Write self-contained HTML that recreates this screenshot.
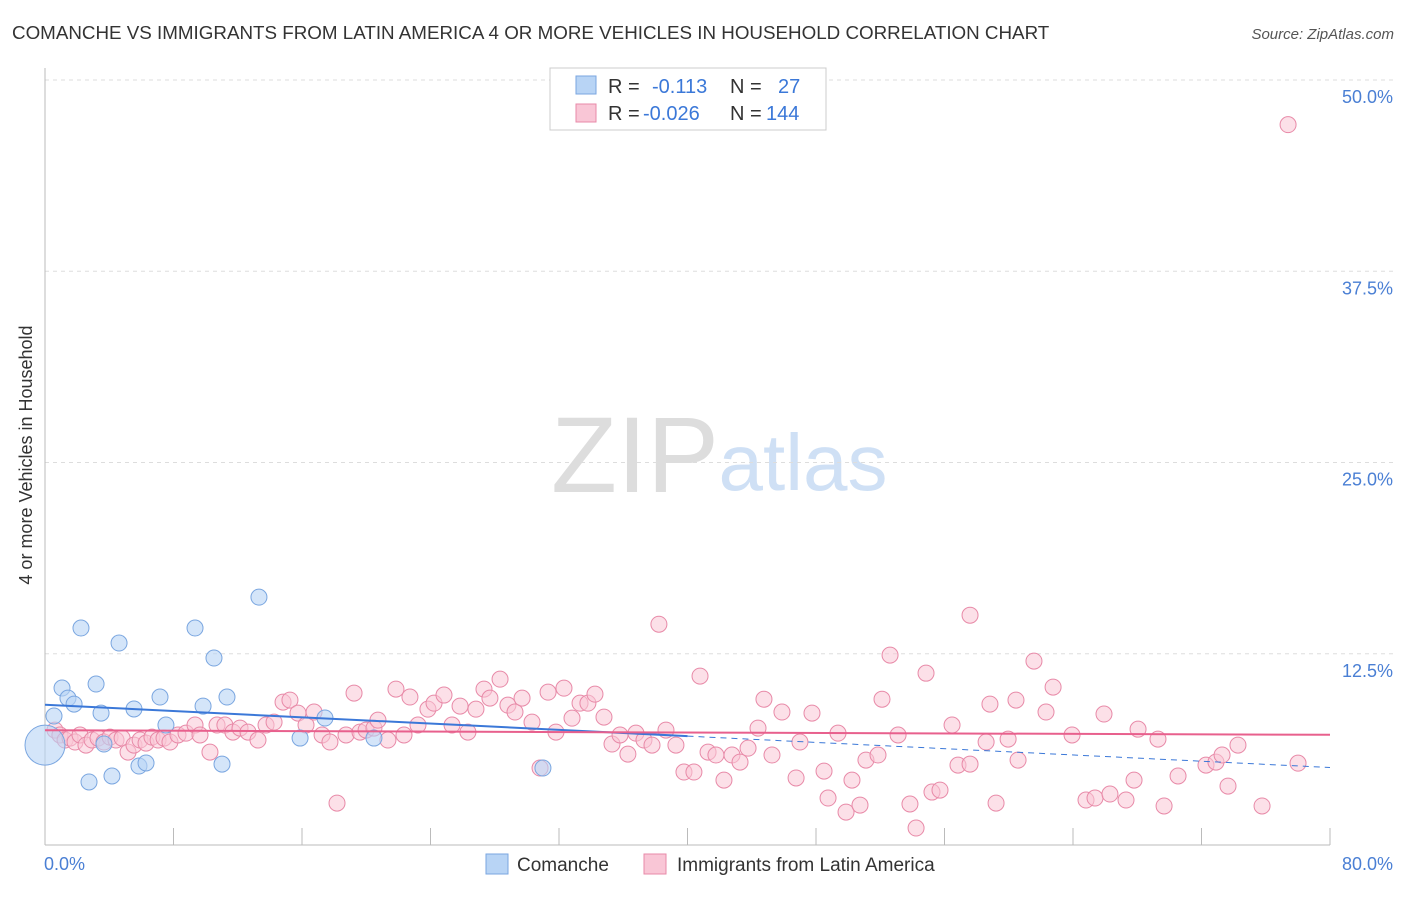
<!DOCTYPE html>
<html><head><meta charset="utf-8">
<style>
body{margin:0;background:#fff;font-family:"Liberation Sans",sans-serif;}
svg text{font-family:"Liberation Sans",sans-serif;}
</style></head>
<body>
<svg id="chart" width="1406" height="892" xmlns="http://www.w3.org/2000/svg">
<text x="12" y="39" font-size="18.8" fill="#333">COMANCHE VS IMMIGRANTS FROM LATIN AMERICA 4 OR MORE VEHICLES IN HOUSEHOLD CORRELATION CHART</text>
<text x="1394" y="39" font-size="15" fill="#555" font-style="italic" text-anchor="end">Source: ZipAtlas.com</text>
<text x="32" y="455" font-size="18" fill="#333" text-anchor="middle" transform="rotate(-90 32 455)">4 or more Vehicles in Household</text>
<g>
<text x="635" y="492" font-size="108" fill="#ddd" text-anchor="middle" font-family="Liberation Serif">ZIP</text>
<text x="803" y="490" font-size="80" fill="#cfe0f5" text-anchor="middle">atlas</text>
</g>
<g id="grid"></g>
<g id="axes"></g>
<g id="marks"></g>
<g>
<rect x="550" y="68" width="276" height="62" fill="#fff" stroke="#ccc"/>
<rect x="576" y="76" width="20" height="18" fill="#b8d4f5" stroke="#7aa6e0"/>
<rect x="576" y="104" width="20" height="18" fill="#f9c6d6" stroke="#e88aa8"/>
<text x="608" y="93" font-size="20" fill="#333">R = </text><text x="652" y="93" font-size="20" fill="#3b78d8">-0.113</text>
<text x="730" y="93" font-size="20" fill="#333">N = </text><text x="778" y="93" font-size="20" fill="#3b78d8">27</text>
<text x="608" y="120" font-size="20" fill="#333">R = </text><text x="643" y="120" font-size="20" fill="#3b78d8">-0.026</text>
<text x="730" y="120" font-size="20" fill="#333">N = </text><text x="766" y="120" font-size="20" fill="#3b78d8">144</text>
</g>
<g>
<rect x="486" y="854" width="22" height="20" fill="#b8d4f5" stroke="#7aa6e0"/>
<text x="517" y="871" font-size="19" fill="#333">Comanche</text>
<rect x="644" y="854" width="22" height="20" fill="#f9c6d6" stroke="#e88aa8"/>
<text x="677" y="871" font-size="19" fill="#333">Immigrants from Latin America</text>
</g>
</svg>
<script>
const yTicks=[12.5,25.0,37.5,50.0];
const yTickLabels=["12.5%","25.0%","37.5%","50.0%"];
const xEdgeLabels=["0.0%","80.0%"];
const comancheX=[0.56,1.06,1.43,1.81,2.24,2.74,3.18,3.49,3.67,4.17,4.61,5.54,5.85,6.29,7.16,7.53,9.34,9.84,10.52,11.02,11.33,13.32,15.88,17.43,20.48,31.0,0];
const comancheY=[8.43,10.26,9.6,9.21,14.18,4.12,10.52,8.62,6.6,4.51,13.2,8.89,5.16,5.36,9.67,7.84,14.18,9.08,12.22,5.29,9.67,16.2,6.99,8.3,6.99,5.03,6.53];
const immX=[0.62,0.93,1.25,1.56,1.87,2.18,2.55,2.93,3.3,3.67,4.05,4.42,4.8,5.17,5.54,5.92,6.29,6.66,7.04,7.41,7.78,8.28,8.78,9.34,9.65,10.27,10.71,11.2,11.7,12.14,12.64,13.26,13.76,14.26,14.82,15.25,15.75,16.25,16.75,17.25,17.74,18.18,18.74,19.24,19.61,19.99,20.48,20.73,21.35,21.85,22.35,22.72,23.22,23.84,24.22,24.84,25.34,25.84,26.33,26.83,27.33,27.7,28.33,28.82,29.26,29.7,30.32,30.82,31.32,31.81,32.31,32.81,33.31,33.8,34.24,34.8,35.3,35.8,36.29,36.79,37.29,37.79,38.22,38.66,39.28,39.78,40.4,40.78,41.28,41.77,42.27,42.77,43.27,43.77,44.39,44.76,45.26,45.88,46.76,47.0,47.75,48.5,48.75,49.37,49.87,50.24,50.74,51.11,51.86,52.11,52.61,53.11,53.85,54.23,54.85,55.22,55.72,56.47,56.84,57.59,57.59,58.59,58.83,59.21,59.96,60.45,60.58,61.57,62.32,62.76,63.94,64.81,65.37,65.93,66.3,67.3,67.8,68.05,69.29,69.67,70.54,72.28,72.9,73.28,73.65,74.27,75.77,78.01,77.39];
const immY=[7.51,7.19,6.86,6.99,6.73,7.19,6.53,6.86,6.99,6.73,7.05,6.86,6.99,6.07,6.53,6.86,6.66,7.05,6.86,6.99,6.73,7.19,7.31,7.84,7.19,6.07,7.84,7.84,7.38,7.64,7.38,6.86,7.84,8.03,9.34,9.47,8.62,7.84,8.69,7.19,6.73,2.74,7.19,9.93,7.38,7.51,7.64,8.16,6.86,10.19,7.19,9.67,7.84,8.88,9.27,9.8,7.84,9.08,7.38,8.88,10.19,9.6,10.84,9.14,8.69,9.6,8.03,5.03,9.99,7.38,10.25,8.29,9.27,9.27,9.86,8.36,6.6,7.19,5.94,7.31,6.86,6.53,14.43,7.51,6.53,4.77,4.77,11.04,6.07,5.88,4.24,5.88,5.42,6.33,7.64,9.53,5.88,8.69,4.38,6.73,8.62,4.83,3.07,7.31,2.15,4.24,2.61,5.55,5.88,9.53,12.41,7.19,2.68,1.11,11.23,3.46,3.59,7.84,5.22,15.02,5.29,6.73,9.21,2.74,6.92,9.47,5.55,12.02,8.69,10.32,7.19,2.94,3.07,8.56,3.33,2.94,4.24,7.57,6.92,2.55,4.51,5.22,5.42,5.88,3.85,6.53,2.55,5.35,47.08];

const NS="http://www.w3.org/2000/svg";
const X0=45,X1=1330,Y0=845,Y50=80;
const sx=v=>X0+(v/80)*(X1-X0);
const sy=v=>Y0-(v/50)*(Y0-Y50);
function mk(tag,attrs,parent){const e=document.createElementNS(NS,tag);for(const k in attrs)e.setAttribute(k,attrs[k]);parent.appendChild(e);return e;}
const grid=document.getElementById('grid'),axes=document.getElementById('axes'),marks=document.getElementById('marks');
yTicks.forEach((t,i)=>{
 const l=mk('line',{x1:X0,x2:1394,y1:sy(t),y2:sy(t),stroke:'#ddd','stroke-dasharray':'4,4'},grid);
 
 
 const tx=mk('text',{x:1393,y:sy(t)+23,'font-size':18,fill:'#4a7fd4','text-anchor':'end'},axes);
 tx.textContent=yTickLabels[i];
 
 
});
const ax=mk('line',{x1:X0,x2:X1,y1:Y0,y2:Y0,stroke:'#bbb'},axes);


const ay=mk('line',{x1:X0,x2:X0,y1:68,y2:Y0,stroke:'#bbb'},axes);


for(let i=0;i<=10;i++){
 const t=mk('line',{x1:sx(i*8),x2:sx(i*8),y1:Y0,y2:Y0-17,stroke:'#bbb'},axes);
 
 
}
const xl0=mk('text',{x:44,y:870,'font-size':18,fill:'#4a7fd4'},axes);xl0.textContent=xEdgeLabels[0];


const xl1=mk('text',{x:1393,y:870,'font-size':18,fill:'#4a7fd4','text-anchor':'end'},axes);xl1.textContent=xEdgeLabels[1];



immX.forEach((x,i)=>{
 const c=mk('circle',{cx:sx(x),cy:sy(immY[i]),r:8,fill:'#f9c6d6','fill-opacity':0.55,stroke:'#e88aa8','stroke-width':1},marks);
 
 
});
comancheX.forEach((x,i)=>{
 const r=(x===0)?20:8;
 const c=mk('circle',{cx:sx(x),cy:sy(comancheY[i]),r:r,fill:'#b8d4f5','fill-opacity':0.6,stroke:'#7aa6e0','stroke-width':1},marks);
 
 
});
function fit(xs,ys){const n=xs.length;let mx=0,my=0;xs.forEach((x,i)=>{mx+=x;my+=ys[i];});mx/=n;my/=n;let sxy=0,sxx=0;xs.forEach((x,i)=>{sxy+=(x-mx)*(ys[i]-my);sxx+=(x-mx)*(x-mx);});const b=sxy/sxx;return [my-b*mx,b];}
const cf=fit(comancheX,comancheY);
const l1=mk('line',{x1:sx(0),y1:sy(cf[0]),x2:sx(40),y2:sy(cf[0]+cf[1]*40),stroke:'#3b78d8','stroke-width':2},marks);


const l2=mk('line',{x1:sx(40),y1:sy(cf[0]+cf[1]*40),x2:sx(80),y2:sy(cf[0]+cf[1]*80),stroke:'#3b78d8','stroke-width':1,'stroke-dasharray':'6,5'},marks);


const pf=fit(immX,immY);
const l3=mk('line',{x1:sx(0),y1:sy(pf[0]),x2:sx(80),y2:sy(pf[0]+pf[1]*80),stroke:'#e8608d','stroke-width':2},marks);


</script>
</body></html>
